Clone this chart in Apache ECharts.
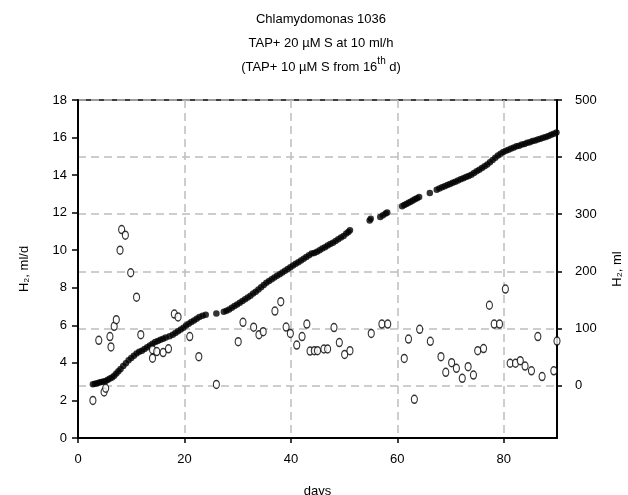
<!DOCTYPE html>
<html>
<head>
<meta charset="utf-8">
<script src="https://cdn.jsdelivr.net/npm/echarts@6/dist/echarts.min.js"></script>
<style>html,body{margin:0;padding:0;background:#fff}#c{width:628px;height:495px}</style>
</head>
<body>
<div id="c"></div>
<script>
// Daily H2 production (ml/d, left axis) - open circles
const dailyDays = [2.8,3.9,4.9,5.2,6.0,6.2,6.8,7.2,7.9,8.2,8.9,9.9,11.0,11.8,14.0,14.0,14.8,16.0,17.0,18.1,18.8,21.0,22.7,26.0,30.1,31.0,33.0,34.0,34.8,37.0,38.1,39.1,39.9,41.1,42.1,43.0,43.6,44.4,45.0,46.2,46.9,48.1,49.1,50.1,51.1,55.1,57.1,58.2,61.3,62.1,63.2,64.2,66.2,68.2,69.1,70.2,71.1,72.2,73.3,74.3,75.1,76.2,77.3,78.2,79.2,80.3,81.2,82.2,83.1,84.0,85.2,86.4,87.2,89.4,90.0];
const dailyVals = [2.0,5.2,2.45,2.65,5.4,4.85,5.95,6.3,10.0,11.1,10.8,8.8,7.5,5.5,4.7,4.25,4.6,4.55,4.75,6.6,6.45,5.4,4.33,2.85,5.13,6.16,5.9,5.5,5.66,6.76,7.26,5.91,5.57,4.95,5.4,6.07,4.63,4.65,4.65,4.74,4.74,5.88,5.08,4.45,4.65,5.57,6.07,6.07,4.24,5.27,2.06,5.79,5.15,4.33,3.5,4.01,3.71,3.18,3.8,3.35,4.65,4.76,7.07,6.07,6.07,7.93,3.98,3.98,4.12,3.83,3.58,5.4,3.27,3.58,5.16];

// Cumulative H2 (ml, right axis) - filled circles
const cumDays = [2.8,3.2,3.6,4.0,4.4,4.8,5.2,5.6,6.0,6.4,6.8,7.2,7.6,8.0,8.5,9.0,9.5,10.0,10.5,11.0,11.5,12.0,12.5,13.0,13.5,14.0,14.5,15.0,15.5,16.0,16.5,17.2,17.8,18.3,18.8,19.3,19.8,20.3,20.8,21.3,21.8,22.3,22.8,23.4,24.0,26.0,27.4,27.9,28.4,28.9,29.4,29.9,30.4,30.9,31.4,31.9,32.4,32.9,33.4,33.9,34.4,34.9,35.4,35.9,36.4,36.9,37.4,37.9,38.4,38.9,39.4,39.9,40.4,40.9,41.4,41.9,42.4,42.9,43.4,43.9,44.4,44.9,45.4,45.9,46.4,46.9,47.4,47.9,48.4,48.9,49.4,49.9,50.4,50.8,51.1,54.8,55.0,56.8,57.3,57.8,58.1,60.9,61.3,61.7,62.1,62.5,62.9,63.3,63.7,64.1,66.1,67.4,67.9,68.4,68.9,69.4,69.9,70.4,70.9,71.4,71.9,72.4,72.9,73.4,73.9,74.4,74.9,75.4,75.9,76.4,76.9,77.4,77.9,78.4,78.9,79.4,79.9,80.4,80.9,81.4,81.9,82.4,82.9,83.4,83.9,84.4,84.9,85.4,85.9,86.4,86.9,87.4,87.9,88.4,88.9,89.4,89.9];
const cumVals = [2,3,4,5,6,7,8,10,12,14,17,21,25,29,34,39,44,48,52,56,59,61,64,67,70,73,76,78,80,82,84,86,89,92,95,98,101,105,108,111,114,117,120,122,124,126,129,131,133,136,139,142,145,148,151,154,157,161,164,168,172,176,180,183,186,189,192,195,198,201,204,207,210,213,216,219,222,225,228,231,232,234,237,240,242,245,248,250,253,256,259,262,266,269,272,289,292,295,298,301,303,314,316,318,320,322,324,326,328,330,337,343,345,347,349,351,353,355,357,359,361,363,365,367,369,372,375,378,381,384,387,391,395,399,403,406,409,411,413,415,417,419,420,422,423,425,426,428,429,431,432,434,435,437,439,441,443];

const xTicks = [0,20,40,60,80];
const leftTicks = [0,2,4,6,8,10,12,14,16,18];
const rightTicks = [0,100,200,300,400,500];

const FONT = 'Liberation Sans, Arial, sans-serif';
const chart = echarts.init(document.getElementById('c'), null, {renderer:'canvas'});
const dash = {color:'#bdbdbd', width:1.5, type:[8,5]};
const ts = {fontFamily:FONT,fontSize:13,fontWeight:'normal',color:'#000'};

chart.setOption({
  animation:false,
  backgroundColor:'#fff',
  title:[
    {text:'Chlamydomonas 1036', left:316, top:8, textAlign:'center', textStyle:ts},
    {text:'TAP+ 20 µM S at 10 ml/h', left:316, top:32, textAlign:'center', textStyle:ts},
    {text:'{n|(TAP+ 10 µM S from 16}{s|th}{n| d)}', left:316, top:51, textAlign:'center',
     textStyle:{fontWeight:'normal',rich:{
       n:{fontFamily:FONT,fontSize:13,fontWeight:'normal',color:'#000',lineHeight:18,verticalAlign:'bottom'},
       s:{fontFamily:FONT,fontSize:10,fontWeight:'normal',color:'#000',lineHeight:18,verticalAlign:'top'}
     }}}
  ],
  grid:{left:78, right:71, top:100, bottom:57, show:true, borderColor:'#000', borderWidth:1.5, containLabel:false, outerBoundsMode:'none'},
  xAxis:{
    type:'value', min:0, max:90, interval:20,
    name:'days', nameLocation:'middle', nameGap:47,
    nameTextStyle:{fontFamily:FONT,fontSize:13,color:'#000'},
    axisLine:{show:true,onZero:false,lineStyle:{color:'#000',width:2}},
    axisTick:{show:true,length:5,lineStyle:{color:'#000',width:1.5},customValues:xTicks},
    axisLabel:{fontFamily:FONT,fontSize:13,color:'#000',margin:15,customValues:xTicks},
    splitLine:{show:true,lineStyle:dash}
  },
  yAxis:[
    {
      type:'value', min:0, max:18, interval:2, position:'left',
      name:'H₂, ml/d', nameLocation:'middle', nameGap:47, nameRotate:90,
      nameTextStyle:{fontFamily:FONT,fontSize:13,color:'#000'},
      axisLine:{show:true,lineStyle:{color:'#000',width:2}},
      axisTick:{show:true,length:6,lineStyle:{color:'#000',width:1.5}},
      axisLabel:{fontFamily:FONT,fontSize:13,color:'#000',margin:11,customValues:leftTicks},
      splitLine:{show:false}
    },
    {
      type:'value', min:-92, max:500, position:'right',
      name:'H₂, ml', nameLocation:'middle', nameGap:54, nameRotate:90,
      nameTextStyle:{fontFamily:FONT,fontSize:13,color:'#000'},
      axisLine:{show:true,lineStyle:{color:'#000',width:2}},
      axisTick:{show:true,length:5,lineStyle:{color:'#000',width:1.5},customValues:rightTicks},
      axisLabel:{fontFamily:FONT,fontSize:13,color:'#000',margin:18,customValues:rightTicks},
      splitLine:{show:true,lineStyle:dash}
    }
  ],
  series:[
    {
      type:'scatter', yAxisIndex:1, symbol:'circle', symbolSize:6.5,
      itemStyle:{color:'#000'},
      data: cumDays.map((d,i)=>[d,cumVals[i]]),
      z:2
    },
    {
      type:'scatter', yAxisIndex:0, symbol:'circle', symbolSize:[6,8],
      itemStyle:{color:'#fff', borderColor:'#000', borderWidth:1.3},
      data: dailyDays.map((d,i)=>[d,dailyVals[i]]),
      z:3, clip:false
    }
  ]
});
</script>
</body>
</html>
